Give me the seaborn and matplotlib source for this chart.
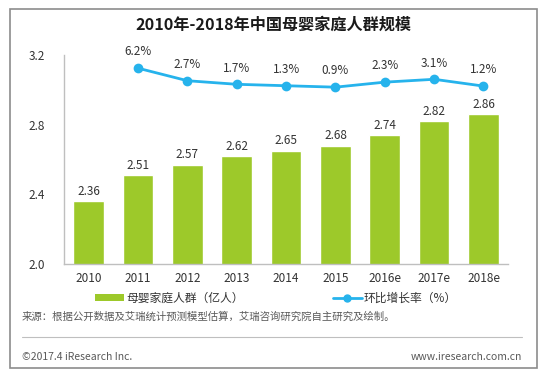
import pandas as pd
import numpy as np
import seaborn as sns
import matplotlib.pyplot as plt
from matplotlib.patches import Patch, Rectangle
from matplotlib.lines import Line2D

# =============================================================================
# Data
# =============================================================================

years = ["2010", "2011", "2012", "2013", "2014", "2015", "2016e", "2017e", "2018e"]
population = [2.36, 2.51, 2.57, 2.62, 2.65, 2.68, 2.74, 2.82, 2.86]
growth_years = ["2011", "2012", "2013", "2014", "2015", "2016e", "2017e", "2018e"]
growth = [6.2, 2.7, 1.7, 1.3, 0.9, 2.3, 3.1, 1.2]

bar_label = "母婴家庭人群（亿人）"
line_label = "环比增长率（%）"

df_bar = pd.DataFrame({"year": years, "pop": population})
df_line = pd.DataFrame({"year": growth_years, "growth": growth})

# =============================================================================
# Style
# =============================================================================

sns.set_style("white")
plt.rcParams["font.family"] = ["Noto Sans CJK SC", "DejaVu Sans"]

green = "#9DC92A"
blue = "#26B3EC"
gray_txt = "#595959"

fig = plt.figure(figsize=(5.47, 3.75), dpi=100)
ax = fig.add_axes([0.117, 0.296, 0.812, 0.557])

# =============================================================================
# Bars
# =============================================================================

sns.barplot(data=df_bar, x="year", y="pop", order=years, color=green,
            width=0.62, saturation=1, ax=ax)
ax.set_ylim(2.0, 3.2)
ax.set_yticks([2.0, 2.4, 2.8, 3.2])
ax.set_yticklabels(["2.0", "2.4", "2.8", "3.2"])
ax.set_xlim(-0.5, 8.5)
ax.set_xlabel("")
ax.set_ylabel("")
ax.tick_params(axis="both", length=0, labelsize=8.5, colors="#333333")
ax.tick_params(axis="y", pad=14)
ax.tick_params(axis="x", pad=6)
for s in ["top", "right"]:
    ax.spines[s].set_visible(False)
for s in ["left", "bottom"]:
    ax.spines[s].set_color("#BFBFBF")
    ax.spines[s].set_linewidth(1)

for i, v in enumerate(population):
    ax.text(i, v + 0.02, f"{v:.2f}", ha="center", va="bottom",
            fontsize=8.5, color="#333333")

# =============================================================================
# Growth line (hidden secondary axis)
# =============================================================================

ax2 = ax.twinx()
sns.pointplot(data=df_line, x="year", y="growth", order=years, color=blue,
              markersize=5.5, linewidth=2, ax=ax2)
ax2.set_ylim(-48.5, 9.85)
ax2.set_xlim(-0.5, 8.5)
ax2.set_yticks([])
ax2.set_ylabel("")
ax2.set_xlabel("")
for s in ax2.spines.values():
    s.set_visible(False)

for y, g in zip(growth_years, growth):
    ax2.annotate(f"{g:.1f}%", (years.index(y), g), xytext=(0, 7),
                 textcoords="offset points", ha="center", va="bottom",
                 fontsize=8.5, color="#333333")

# =============================================================================
# Title, legend, notes, frame
# =============================================================================

fig.text(0.5, 0.933, "2010年-2018年中国母婴家庭人群规模", ha="center",
         va="center", fontsize=11.6, fontweight="bold", color="#1a1a1a")

handles = [Patch(facecolor=green, edgecolor="none", label=bar_label),
           Line2D([0], [0], color=blue, lw=2, marker="o", markersize=5,
                  label=line_label)]
fig.legend(handles=handles, loc="center", bbox_to_anchor=(0.505, 0.205),
           ncol=2, frameon=False, fontsize=8.5, handlelength=2.4,
           handleheight=0.6, columnspacing=7.6, handletextpad=0.2,
           labelcolor="#333333")

fig.text(0.04, 0.155, "来源：根据公开数据及艾瑞统计预测模型估算，艾瑞咨询研究院自主研究及绘制。",
         fontsize=7.5, color=gray_txt, va="center")
fig.add_artist(Line2D([0.04, 0.955], [0.101, 0.101], color="#BFBFBF", lw=0.8))
fig.text(0.04, 0.048, "©2017.4 iResearch Inc.", fontsize=7.5,
         color=gray_txt, va="center")
fig.text(0.955, 0.048, "www.iresearch.com.cn", fontsize=7.5,
         color=gray_txt, va="center", ha="right")
fig.add_artist(Rectangle((0.018, 0.019), 0.963, 0.957, fill=False,
                         edgecolor="#8C8C8C", lw=1.2,
                         transform=fig.transFigure))

plt.savefig("out.png", dpi=100)
